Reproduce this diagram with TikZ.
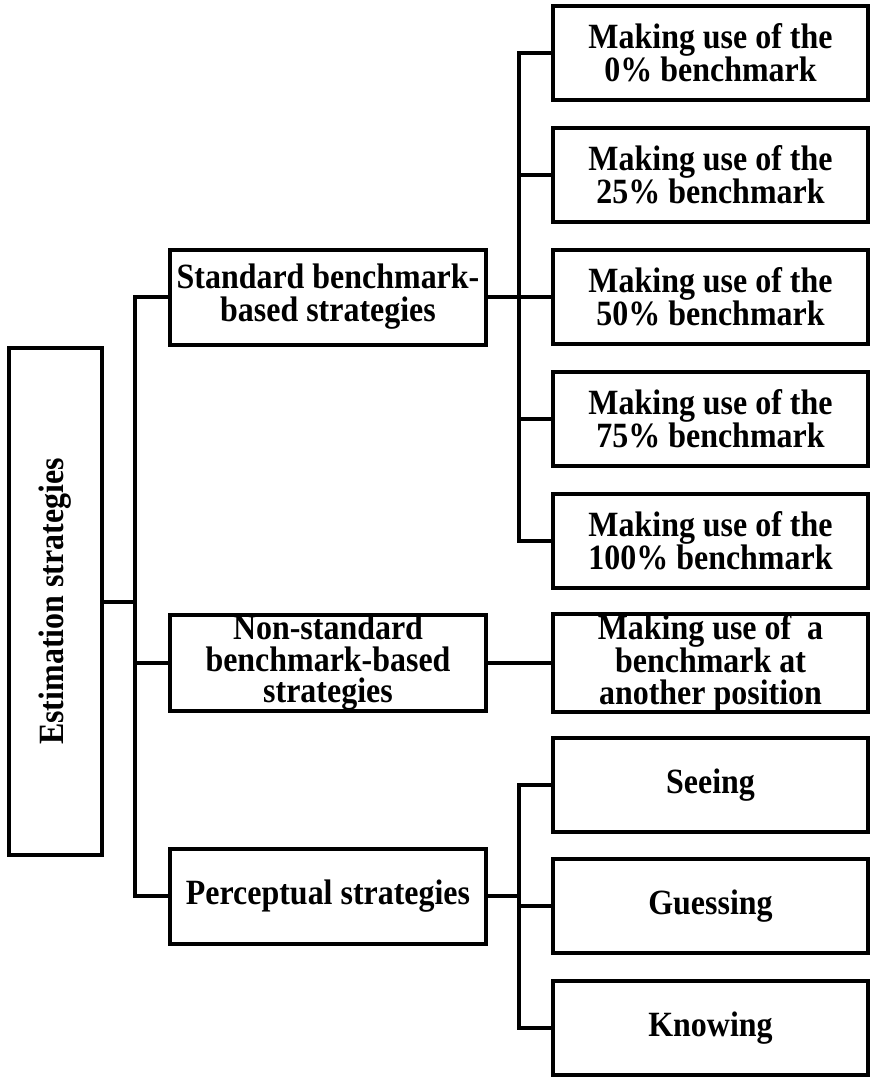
\documentclass[tikz,border=0pt]{standalone}
\usepackage{fontspec}
\setmainfont[FakeStretch=0.9]{Liberation Serif}
\begin{document}
\begin{tikzpicture}[x=1pt,y=-1pt, line width=4pt, line join=miter,
 box/.style={draw, inner sep=0pt, align=center, font=\bfseries\fontsize{35.5}{33}\selectfont},
 boxthree/.style={box, font=\bfseries\fontsize{35.5}{31.5}\selectfont},
 rbox/.style={minimum width=315pt, minimum height=94pt},
 mbox/.style={minimum width=316pt, minimum height=95pt}]
\useasboundingbox (0,0) rectangle (872,1079);
\node[box, minimum width=507pt, minimum height=93pt, rotate=90] (L) at (55.5,601.5) {Estimation strategies};
\node[box, mbox] (S) at (328,297) {Standard benchmark-\\based strategies};
\node[boxthree, mbox] (N) at (328,663) {Non-standard\\benchmark-based\\strategies};
\node[box, mbox] (P) at (328,896) {Perceptual strategies};
\node[box, rbox] (R0) at (710.5,53) {Making use of the\\0\% benchmark};
\node[box, rbox] (R1) at (710.5,175) {Making use of the\\25\% benchmark};
\node[box, rbox] (R2) at (710.5,297) {Making use of the\\50\% benchmark};
\node[box, rbox] (R3) at (710.5,419) {Making use of the\\75\% benchmark};
\node[box, rbox] (R4) at (710.5,541) {Making use of the\\100\% benchmark};
\node[boxthree, rbox] (A) at (710.5,663) {Making use of~~a\\benchmark at\\another position};
\node[box, rbox] (R6) at (710.5,785) {Seeing};
\node[box, rbox] (R7) at (710.5,906) {Guessing};
\node[box, rbox] (R8) at (710.5,1028) {Knowing};
\coordinate (b1) at (135,0);
\coordinate (b2) at (519,0);
\draw (S.west) -- (S.west -| b1) |- (P.west);
\draw (N.west) -- (N.west -| b1);
\draw (L.south) -- (L.south -| b1);
\draw (R0.west) -- (R0.west -| b2) |- (R4.west);
\draw (S.east) -- (S.east -| b2);
\draw (R1.west) -- (R1.west -| b2);
\draw (R2.west) -- (R2.west -| b2);
\draw (R3.west) -- (R3.west -| b2);
\draw (N.east) -- (A.west);
\draw (R6.west) -- (R6.west -| b2) |- (R8.west);
\draw (P.east) -- (P.east -| b2);
\draw (R7.west) -- (R7.west -| b2);
\end{tikzpicture}
\end{document}
